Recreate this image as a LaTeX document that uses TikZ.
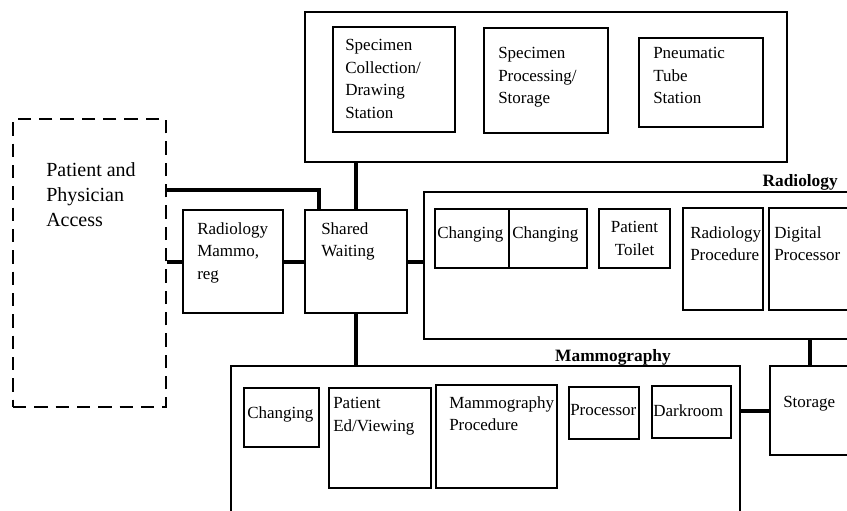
\documentclass[tikz,border=0pt]{standalone}
\usepackage{fontspec}
\setmainfont{Liberation Serif}
\usetikzlibrary{fit,calc}

\begin{document}
\begin{tikzpicture}[x=0.75pt, y=-0.75pt,
	room/.style={draw, line width=1pt, inner sep=0pt},
	wing/.style={draw, line width=2.2pt, inner sep=0pt},
	access/.style={draw, line width=2.2pt, dash pattern=on 10pt off 6pt, inner sep=0pt},
	link/.style={line width=3pt},
	lbl/.style={anchor=north west, align=left, inner sep=0pt, font=\fontsize{12.75}{17}\selectfont},
	wingname/.style={inner sep=0pt, font=\fontsize{13}{17}\selectfont\bfseries}]

	\path[use as bounding box, clip] (0,0) rectangle (847,511);

	% Laboratory
	\node[wing, fit={(305,12) (787,162)}] (lab) {};
	\node[room, fit={(333,27) (455,132)}] (scc) {};
	\node[room, fit={(484,28) (608,133)}] (spp) {};
	\node[room, fit={(639,38) (763,127)}] (pts) {};
	\node[lbl] (scc-t) at (345,39) {Specimen\\Collection/\\Drawing\\Station};
	\node[lbl] (spp-t) at (498,47) {Specimen\\Processing/\\Storage};
	\node[lbl] (pts-t) at (653,47) {Pneumatic\\Tube\\Station};

	% Access and waiting
	\node[access, fit={(13,119) (166,407)}] (pa) {};
	\node[lbl, font=\fontsize{15}{18.75}\selectfont] (pa-t) at (46,162) {Patient and\\Physician\\Access};
	\node[wing, fit={(183,210) (283,313)}] (rm) {};
	\node[lbl] (rm-t) at (197,222) {Radiology\\Mammo,\\reg};
	\node[wing, fit={(305,210) (407,313)}] (sw) {};
	\node[lbl] (sw-t) at (321,222) {Shared\\Waiting};

	% Radiology
	\node[wing, fit={(424,192) (880,339)}] (rad) {};
	\node[wingname, anchor=base east] (rad-t) at (838,186) {Radiology};
	\node[room, fit={(435,209) (509,268)}] (chg1) {};
	\node[room, fit={(509,209) (587,268)}] (chg2) {};
	\node[room, fit={(599,209) (670,268)}] (toil) {};
	\node[room, fit={(683,208) (763,310)}] (rproc) {};
	\node[room, fit={(769,208) (880,310)}] (dproc) {};
	\node[lbl] (chg1-t) at (437,226) {Changing};
	\node[lbl] (chg2-t) at (512,226) {Changing};
	\node[lbl, anchor=north, align=center] (toil-t) at (634.5,221) {Patient\\Toilet};
	\node[lbl] (rproc-t) at (690,226) {Radiology\\Procedure};
	\node[lbl] (dproc-t) at (774,226) {Digital\\Processor};

	% Mammography
	\node[wing, fit={(231,366) (740,540)}] (mam) {};
	\node[wingname, anchor=base] (mam-t) at (613,361) {Mammography};
	\node[room, fit={(244,388) (319,447)}] (mchg) {};
	\node[room, fit={(329,388) (431,488)}] (ped) {};
	\node[room, fit={(436,385) (557,488)}] (mproc) {};
	\node[room, fit={(569,387) (639,439)}] (proc) {};
	\node[room, fit={(652,386) (731,438)}] (dark) {};
	\node[lbl] (mchg-t) at (247,406) {Changing};
	\node[lbl] (ped-t) at (333,397) {Patient\\Ed/Viewing};
	\node[lbl] (mproc-t) at (449,396) {Mammography\\Procedure};
	\node[lbl] (proc-t) at (570,404) {Processor};
	\node[lbl] (dark-t) at (653,404) {Darkroom};

	% Storage
	\node[wing, fit={(770,366) (849,455)}] (st) {};
	\node[lbl] (st-t) at (783,396) {Storage};

	% Links
	\draw[link] ($(pa.north east)!.25!(pa.south east)$) -| ($(sw.north west)!.15!(sw.north east)$);
	\draw[link] (pa.east |- rm.west) -- (rm.west);
	\draw[link] (rm.east) -- (sw.west);
	\draw[link] (sw.north) -- (sw.north |- lab.south);
	\draw[link] (sw.south) -- (sw.south |- mam.north);
	\draw[link] (sw.east) -- (sw.east -| rad.west);
	\draw[link] (st.north) -- (st.north |- rad.south);
	\draw[link] (st.west) -- (st.west -| mam.east);

\end{tikzpicture}
\end{document}
